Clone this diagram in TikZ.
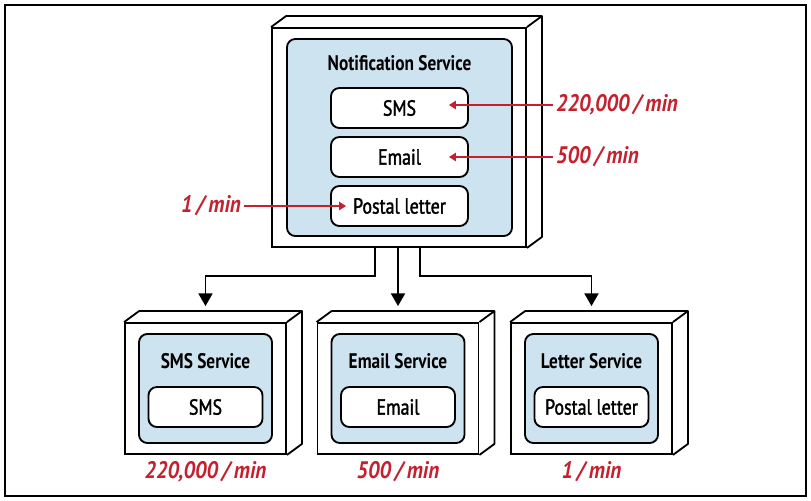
\documentclass[tikz,border=0pt]{standalone}
\usepackage{fontspec}
\setmainfont{PT Sans}[FakeStretch=0.82]
\newfontfamily\medfont{PT Sans}[FakeStretch=0.82, FakeBold=1.6]
\newfontfamily\ratefont{PT Sans}[FakeStretch=0.88]
\newcommand{\ratespace}{\spaceskip=0.16em\relax}
\definecolor{paleblue}{RGB}{206,227,240}
\definecolor{ratered}{RGB}{196,32,46}
\usepackage{tikz}
\usetikzlibrary{calc, positioning, arrows.meta}

\newcommand{\boxdepth}[1]{%
  \draw[line width=1.3pt, line join=round] (#1.north west) -- ++(15,-11)
    -- ($(#1.north east)+(15,-11)$) -- ($(#1.south east)+(15,-11)$)
    -- (#1.south east) (#1.north east) -- ++(15,-11);}

\begin{document}
\begin{tikzpicture}[x=0.025cm, y=-0.025cm,
    frontbox/.style={draw, line width=1.3pt, fill=white, inner sep=0pt},
    bluebox/.style={draw, line width=1.3pt, fill=paleblue, rounded corners=6pt, inner sep=0pt},
    kindbox/.style={draw, line width=1.3pt, fill=white, rounded corners=6pt,
      minimum height=1cm, inner sep=0pt, font=\medfont\fontsize{15.5}{18}\selectfont},
    title/.style={font=\fontsize{15}{18}\selectfont\bfseries},
    rate/.style={text=ratered, inner sep=2pt,
      font=\ratefont\fontsize{17}{20}\selectfont\bfseries\itshape\ratespace},
    ratearrow/.style={-{Triangle[length=5pt, width=6pt]}, ratered, line width=0.9pt},
    flow/.style={-{Triangle[length=9pt, width=10pt]}, line width=1.1pt},
  ]
    % frame
    \useasboundingbox (0,0) rectangle (811,501);
    \draw[line width=0.9pt] (5,5) rectangle (806,496);

    % notification service
    \node[frontbox, minimum width=6.35cm, minimum height=5.475cm] (ns) at (399,137.5) {};
    \boxdepth{ns}
    \node[bluebox, minimum width=5.625cm, minimum height=4.925cm] (nsin) at (399.5,137.5) {};
    \node[title] (nstitle) at (399.5,63) {Notification Service};
    \node[kindbox, minimum width=3.425cm] (nssms) at (399.5,108) {SMS};
    \node[kindbox, minimum width=3.425cm] (nsemail) at (399.5,157) {Email};
    \node[kindbox, minimum width=3.425cm] (nsletter) at (399.5,206) {Postal letter};

    % incoming rates
    \node[rate, anchor=west] (insms) at (553,105) {220,000 / min};
    \node[rate, anchor=west] (inemail) at (553,157) {500 / min};
    \node[rate, anchor=east] (inletter) at (244,206) {1 / min};
    \draw[ratearrow] (insms.west) -- ($(nssms.east)+(-20,-3)$);
    \draw[ratearrow] (inemail.west) -- ($(nsemail.east)+(-20,0)$);
    \draw[ratearrow] (inletter.east) -- ($(nsletter.west)+(16,0)$);

    % services
    \foreach \name/\x/\head/\kind/\rateval in {sms/205.5/SMS Service/SMS/{220,000 / min},
        email/398/Email Service/Email/{500 / min},
        letter/591.5/Letter Service/Postal letter/{1 / min}}{
      \node[frontbox, minimum width=4.025cm, minimum height=3.275cm] (\name) at (\x,388.5) {};
      \boxdepth{\name}
      \node[bluebox, minimum width=3.325cm, minimum height=2.725cm] (\name in) at (\x,388.5) {};
      \node[title] (\name title) at (\x,361) {\head};
      \node[kindbox, minimum width=2.85cm] (\name kind) at (\x,407) {\kind};
      \node[rate] (\name rate) at (\x,472) {\rateval};
    }

    % dispatch
    \draw[flow] ($(ns.south)+(-24,0)$) -- ++(0,28) -| ($(sms.north)+(0,-16)$);
    \draw[flow] ($(ns.south)+(-1,0)$) -- ($(email.north)+(0,-16)$);
    \draw[flow] ($(ns.south)+(21,0)$) -- ++(0,28) -| ($(letter.north)+(0,-16)$);
\end{tikzpicture}
\end{document}
